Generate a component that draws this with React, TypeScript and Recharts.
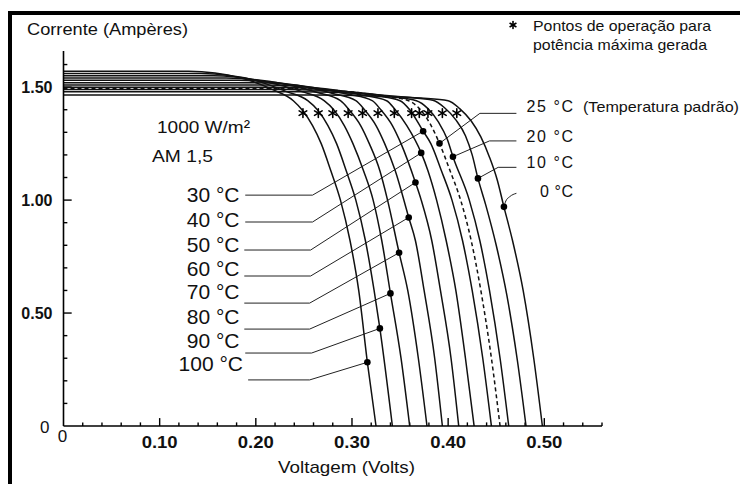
import React from 'react';
import { ComposedChart, Line, Scatter, XAxis, YAxis } from 'recharts';

const FONT = '"Liberation Sans", Arial, Helvetica, sans-serif';

// I-V curves per cell temperature (v = Volts, i = Amperes)
const c100 = [
  { v: 0, i: 1.57 }, { v: 0.13, i: 1.57 }, { v: 0.185, i: 1.54 }, { v: 0.217, i: 1.49 },
  { v: 0.239, i: 1.44 }, { v: 0.248, i: 1.4 }, { v: 0.259, i: 1.33 }, { v: 0.268, i: 1.25 },
  { v: 0.278, i: 1.13 }, { v: 0.288, i: 1.0 }, { v: 0.298, i: 0.82 }, { v: 0.307, i: 0.6 },
  { v: 0.316, i: 0.282 }, { v: 0.325, i: 0 },
];
const c90 = [
  { v: 0, i: 1.56 }, { v: 0.143, i: 1.56 }, { v: 0.199, i: 1.53 }, { v: 0.232, i: 1.48 },
  { v: 0.254, i: 1.44 }, { v: 0.264, i: 1.4 }, { v: 0.275, i: 1.33 }, { v: 0.284, i: 1.25 },
  { v: 0.294, i: 1.13 }, { v: 0.304, i: 1.0 }, { v: 0.314, i: 0.82 }, { v: 0.323, i: 0.6 },
  { v: 0.329, i: 0.432 }, { v: 0.342, i: 0 },
];
const c80 = [
  { v: 0, i: 1.55 }, { v: 0.156, i: 1.55 }, { v: 0.214, i: 1.52 }, { v: 0.248, i: 1.48 },
  { v: 0.271, i: 1.44 }, { v: 0.281, i: 1.4 }, { v: 0.292, i: 1.33 }, { v: 0.301, i: 1.25 },
  { v: 0.312, i: 1.13 }, { v: 0.322, i: 1.0 }, { v: 0.331, i: 0.82 }, { v: 0.34, i: 0.587 },
  { v: 0.351, i: 0.3 }, { v: 0.36, i: 0 },
];
const c70 = [
  { v: 0, i: 1.54 }, { v: 0.169, i: 1.54 }, { v: 0.229, i: 1.515 }, { v: 0.264, i: 1.476 },
  { v: 0.288, i: 1.44 }, { v: 0.297, i: 1.4 }, { v: 0.309, i: 1.33 }, { v: 0.318, i: 1.25 },
  { v: 0.329, i: 1.13 }, { v: 0.337, i: 1.0 }, { v: 0.349, i: 0.767 }, { v: 0.358, i: 0.6 },
  { v: 0.369, i: 0.3 }, { v: 0.378, i: 0 },
];
const c60 = [
  { v: 0, i: 1.53 }, { v: 0.182, i: 1.53 }, { v: 0.243, i: 1.508 }, { v: 0.28, i: 1.472 },
  { v: 0.304, i: 1.44 }, { v: 0.313, i: 1.4 }, { v: 0.325, i: 1.33 }, { v: 0.334, i: 1.25 },
  { v: 0.345, i: 1.13 }, { v: 0.359, i: 0.923 }, { v: 0.366, i: 0.82 }, { v: 0.375, i: 0.6 },
  { v: 0.386, i: 0.3 }, { v: 0.394, i: 0 },
];
const c50 = [
  { v: 0, i: 1.52 }, { v: 0.195, i: 1.52 }, { v: 0.258, i: 1.5 }, { v: 0.296, i: 1.469 },
  { v: 0.321, i: 1.44 }, { v: 0.33, i: 1.4 }, { v: 0.342, i: 1.33 }, { v: 0.351, i: 1.25 },
  { v: 0.366, i: 1.078 }, { v: 0.372, i: 1.0 }, { v: 0.383, i: 0.82 }, { v: 0.392, i: 0.6 },
  { v: 0.403, i: 0.3 }, { v: 0.411, i: 0 },
];
const c40 = [
  { v: 0, i: 1.51 }, { v: 0.208, i: 1.51 }, { v: 0.272, i: 1.493 }, { v: 0.31, i: 1.465 },
  { v: 0.336, i: 1.44 }, { v: 0.345, i: 1.4 }, { v: 0.357, i: 1.33 }, { v: 0.372, i: 1.209 },
  { v: 0.379, i: 1.13 }, { v: 0.388, i: 1.0 }, { v: 0.398, i: 0.82 }, { v: 0.408, i: 0.6 },
  { v: 0.418, i: 0.3 }, { v: 0.427, i: 0 },
];
const c30 = [
  { v: 0, i: 1.5 }, { v: 0.221, i: 1.5 }, { v: 0.286, i: 1.485 }, { v: 0.324, i: 1.462 },
  { v: 0.35, i: 1.44 }, { v: 0.36, i: 1.4 }, { v: 0.374, i: 1.305 }, { v: 0.382, i: 1.25 },
  { v: 0.393, i: 1.13 }, { v: 0.404, i: 1.0 }, { v: 0.415, i: 0.82 }, { v: 0.425, i: 0.6 },
  { v: 0.436, i: 0.3 }, { v: 0.445, i: 0 },
];
const c25 = [
  { v: 0, i: 1.495 }, { v: 0.228, i: 1.495 }, { v: 0.294, i: 1.481 }, { v: 0.333, i: 1.46 },
  { v: 0.359, i: 1.44 }, { v: 0.37, i: 1.405 }, { v: 0.381, i: 1.34 }, { v: 0.391, i: 1.251 },
  { v: 0.402, i: 1.13 }, { v: 0.413, i: 1.0 }, { v: 0.424, i: 0.82 }, { v: 0.434, i: 0.6 },
  { v: 0.445, i: 0.3 }, { v: 0.454, i: 0 },
];
const c20 = [
  { v: 0, i: 1.49 }, { v: 0.234, i: 1.49 }, { v: 0.3, i: 1.478 }, { v: 0.34, i: 1.458 },
  { v: 0.367, i: 1.44 }, { v: 0.379, i: 1.405 }, { v: 0.39, i: 1.345 }, { v: 0.399, i: 1.27 },
  { v: 0.405, i: 1.192 }, { v: 0.422, i: 1.0 }, { v: 0.433, i: 0.82 }, { v: 0.443, i: 0.6 },
  { v: 0.454, i: 0.3 }, { v: 0.463, i: 0 },
];
const c10 = [
  { v: 0, i: 1.48 }, { v: 0.247, i: 1.48 }, { v: 0.316, i: 1.47 }, { v: 0.357, i: 1.455 },
  { v: 0.384, i: 1.442 }, { v: 0.396, i: 1.41 }, { v: 0.408, i: 1.355 }, { v: 0.418, i: 1.285 },
  { v: 0.425, i: 1.2 }, { v: 0.431, i: 1.096 }, { v: 0.439, i: 0.98 }, { v: 0.45, i: 0.8 },
  { v: 0.461, i: 0.58 }, { v: 0.472, i: 0.29 }, { v: 0.481, i: 0 },
];
const c0 = [
  { v: 0, i: 1.465 }, { v: 0.26, i: 1.465 }, { v: 0.33, i: 1.46 }, { v: 0.372, i: 1.452 },
  { v: 0.4, i: 1.44 }, { v: 0.412, i: 1.405 }, { v: 0.424, i: 1.35 }, { v: 0.434, i: 1.28 },
  { v: 0.443, i: 1.19 }, { v: 0.451, i: 1.09 }, { v: 0.458, i: 0.97 }, { v: 0.467, i: 0.82 },
  { v: 0.478, i: 0.6 }, { v: 0.489, i: 0.3 }, { v: 0.498, i: 0 },
];

// maximum power points (asterisks)
const maxPowerPoints = [
  { v: 0.249, i: 1.385 }, { v: 0.265, i: 1.385 }, { v: 0.28, i: 1.385 }, { v: 0.296, i: 1.385 },
  { v: 0.311, i: 1.385 }, { v: 0.327, i: 1.385 }, { v: 0.344, i: 1.385 }, { v: 0.362, i: 1.385 },
  { v: 0.37, i: 1.385 }, { v: 0.379, i: 1.385 }, { v: 0.394, i: 1.385 }, { v: 0.409, i: 1.385 },
];

// points where the label leaders touch the curves
const labelDots = [
  { v: 0.374, i: 1.305 }, { v: 0.372, i: 1.209 }, { v: 0.366, i: 1.078 }, { v: 0.359, i: 0.923 },
  { v: 0.349, i: 0.767 }, { v: 0.34, i: 0.587 }, { v: 0.329, i: 0.432 }, { v: 0.316, i: 0.282 },
  { v: 0.391, i: 1.251 }, { v: 0.405, i: 1.192 }, { v: 0.431, i: 1.096 }, { v: 0.458, i: 0.97 },
];

// leader lines from the temperature labels to the curves
const leader30 = [{ v: 0.189, i: 1.022 }, { v: 0.259, i: 1.022 }, { v: 0.374, i: 1.305 }];
const leader40 = [{ v: 0.189, i: 0.903 }, { v: 0.259, i: 0.903 }, { v: 0.372, i: 1.209 }];
const leader50 = [{ v: 0.188, i: 0.779 }, { v: 0.257, i: 0.779 }, { v: 0.366, i: 1.078 }];
const leader60 = [{ v: 0.188, i: 0.664 }, { v: 0.257, i: 0.664 }, { v: 0.359, i: 0.923 }];
const leader70 = [{ v: 0.188, i: 0.544 }, { v: 0.256, i: 0.544 }, { v: 0.349, i: 0.767 }];
const leader80 = [{ v: 0.188, i: 0.429 }, { v: 0.256, i: 0.429 }, { v: 0.34, i: 0.587 }];
const leader90 = [{ v: 0.189, i: 0.323 }, { v: 0.258, i: 0.323 }, { v: 0.329, i: 0.432 }];
const leader100 = [{ v: 0.192, i: 0.204 }, { v: 0.256, i: 0.204 }, { v: 0.316, i: 0.282 }];
const leader25 = [{ v: 0.391, i: 1.251 }, { v: 0.433, i: 1.384 }, { v: 0.471, i: 1.384 }];
const leader20 = [{ v: 0.405, i: 1.192 }, { v: 0.443, i: 1.262 }, { v: 0.471, i: 1.262 }];
const leader10 = [{ v: 0.431, i: 1.096 }, { v: 0.452, i: 1.145 }, { v: 0.471, i: 1.145 }];
const leader0 = [{ v: 0.458, i: 0.97 }, { v: 0.46, i: 0.996 }, { v: 0.464, i: 1.015 }, { v: 0.471, i: 1.03 }];

// axes
const xTicks = [0, 0.02, 0.04, 0.06, 0.08, 0.1, 0.12, 0.14, 0.16, 0.18, 0.2, 0.22, 0.24, 0.26, 0.28,
  0.3, 0.32, 0.34, 0.36, 0.38, 0.4, 0.42, 0.44, 0.46, 0.48, 0.5, 0.52, 0.54, 0.56];
const xMajor = [0, 0.1, 0.2, 0.3, 0.4, 0.5];
const xMajorLabels = ['0', '0.10', '0.20', '0.30', '0.40', '0.50'];
const yTicks = [0, 0.1, 0.2, 0.3, 0.4, 0.5, 0.6, 0.7, 0.8, 0.9, 1.0, 1.1, 1.2, 1.3, 1.4, 1.5, 1.6];
const yMajor = [0, 0.5, 1.0, 1.5];
const yMajorLabels = ['0', '0.50', '1.00', '1.50'];

const leftLabels = ['30 °C', '40 °C', '50 °C', '60 °C', '70 °C', '80 °C', '90 °C', '100 °C'];
const rightLabels = ['25 °C', '20 °C', '10 °C', '0 °C'];

const curves = [c100, c90, c80, c70, c60, c50, c40, c30, c25, c20, c10, c0];
const leaders = [leader30, leader40, leader50, leader60, leader70, leader80, leader90, leader100,
  leader25, leader20, leader10];

const findMajor = (list: number[], v: number) => list.findIndex((m) => Math.abs(m - v) < 1e-6);

// inward tick marks, drawn as tiny line series standing on the axes
const xTickMarks = xTicks.filter((v) => v > 0).map((v) => {
  const len = findMajor(xMajor, v) >= 0 ? 0.035 : 0.016;
  return [{ v, i: 0 }, { v, i: len }];
});
const yTickMarks = yTicks.filter((i) => i > 0).map((i) => {
  const len = findMajor(yMajor, i) >= 0 ? 0.0085 : 0.004;
  return [{ v: 0, i }, { v: len, i }];
});

const Asterisk = ({ cx, cy, r = 4.4 }: { cx: number; cy: number; r?: number }) => (
  <g stroke="#000" strokeWidth={1.6} strokeLinecap="round">
    <line x1={cx} y1={cy - r} x2={cx} y2={cy + r} />
    <line x1={cx - r * 0.866} y1={cy - r * 0.5} x2={cx + r * 0.866} y2={cy + r * 0.5} />
    <line x1={cx - r * 0.866} y1={cy + r * 0.5} x2={cx + r * 0.866} y2={cy - r * 0.5} />
  </g>
);

const XTick = (props: any) => {
  const { x, y, payload } = props;
  const k = findMajor(xMajor, payload.value);
  if (k < 0) return <g />;
  if (k === 0) {
    return (
      <text x={x - 1} y={y + 16} textAnchor="middle" fontSize={17} fontFamily={FONT} fill="#111">
        {xMajorLabels[k]}
      </text>
    );
  }
  return (
    <text x={x} y={y + 22} textAnchor="middle" fontSize={16} fontWeight="bold" fontFamily={FONT}
      fill="#111" textLength={36} lengthAdjust="spacingAndGlyphs">
      {xMajorLabels[k]}
    </text>
  );
};

const YTick = (props: any) => {
  const { x, y, payload } = props;
  const k = findMajor(yMajor, payload.value);
  if (k < 0) return <g />;
  if (k === 0) {
    return (
      <text x={x - 14} y={y + 7} textAnchor="end" fontSize={17} fontFamily={FONT} fill="#111">
        {yMajorLabels[k]}
      </text>
    );
  }
  return (
    <text x={x - 11} y={y + 6} textAnchor="end" fontSize={16} fontWeight="bold" fontFamily={FONT}
      fill="#111">
      {yMajorLabels[k]}
    </text>
  );
};

const leftBaselines = [202, 227, 252, 276, 299, 324, 348, 371];
const rightBaselines = [112, 142, 168, 197];

export default function App() {
  return (
    <div style={{ position: 'absolute', left: 0, top: 0, width: 740, height: 484, background: '#fff' }}>
      <ComposedChart width={740} height={484} margin={{ top: 51, right: 138, bottom: 28, left: 13.5 }}>
        <XAxis dataKey="v" type="number" domain={[0, 0.56]} ticks={xTicks} interval={0} height={30}
          tickSize={0} tickMargin={0} tickLine={false} tick={<XTick />}
          axisLine={{ stroke: '#000', strokeWidth: 1.6 }} />
        <YAxis dataKey="i" type="number" domain={[0, 1.66]} ticks={yTicks} interval={0} width={50}
          tickSize={0} tickMargin={0} tickLine={false} tick={<YTick />}
          axisLine={{ stroke: '#000', strokeWidth: 1.6 }} />
        {xTickMarks.map((d, n) => (
          <Line key={'xt' + n} data={d} dataKey="i" type="linear" stroke="#000" strokeWidth={1.4}
            dot={false} isAnimationActive={false} />
        ))}
        {yTickMarks.map((d, n) => (
          <Line key={'yt' + n} data={d} dataKey="i" type="linear" stroke="#000" strokeWidth={1.4}
            dot={false} isAnimationActive={false} />
        ))}
        {leaders.map((d, n) => (
          <Line key={'l' + n} data={d} dataKey="i" type="linear" stroke="#222" strokeWidth={1}
            dot={false} isAnimationActive={false} />
        ))}
        <Line data={leader0} dataKey="i" type="monotone" stroke="#222" strokeWidth={1}
          dot={false} isAnimationActive={false} />
        {curves.map((d, n) => (
          <Line key={'c' + n} data={d} dataKey="i" type="monotone" stroke="#111" strokeWidth={1.5}
            strokeDasharray={d === c25 ? '4 3' : undefined} dot={false} isAnimationActive={false} />
        ))}
        <Scatter data={labelDots} dataKey="i" fill="#000" isAnimationActive={false}
          shape={(p: any) => <circle cx={p.cx} cy={p.cy} r={3.3} fill="#000" />} />
        <Scatter data={maxPowerPoints} dataKey="i" isAnimationActive={false}
          shape={(p: any) => <Asterisk cx={p.cx} cy={p.cy} />} />
      </ComposedChart>

      <svg width={740} height={484} style={{ position: 'absolute', left: 0, top: 0, pointerEvents: 'none' }}
        fontFamily={FONT} fill="#111">
        <rect x={8} y={11} width={732} height={4} fill="#000" />
        <rect x={8} y={11} width={4} height={473} fill="#000" />
        <text x={27} y={35} fontSize={17} textLength={161} lengthAdjust="spacingAndGlyphs">Corrente (Ampères)</text>
        <text x={278} y={473} fontSize={17} textLength={137} lengthAdjust="spacingAndGlyphs">Voltagem (Volts)</text>
        <Asterisk cx={513} cy={25} r={3.4} />
        <text x={533} y={31} fontSize={15} textLength={178} lengthAdjust="spacingAndGlyphs">Pontos de operação para</text>
        <text x={533} y={50} fontSize={15} textLength={174} lengthAdjust="spacingAndGlyphs">potência máxima gerada</text>
        <text x={157} y={133} fontSize={17} textLength={93} lengthAdjust="spacingAndGlyphs">1000 W/m²</text>
        <text x={152} y={162} fontSize={17} textLength={61} lengthAdjust="spacingAndGlyphs">AM 1,5</text>
        {leftLabels.map((t, n) => (
          <text key={t} x={n === 7 ? 243 : 239.5} y={leftBaselines[n]} fontSize={21} textAnchor="end">{t}</text>
        ))}
        {rightLabels.map((t, n) => (
          <text key={t} x={573} y={rightBaselines[n]} fontSize={16} textAnchor="end"
            textLength={n === 3 ? 33 : 46.5} lengthAdjust="spacing">{t}</text>
        ))}
        <text x={583} y={112} fontSize={15} textLength={156} lengthAdjust="spacingAndGlyphs">(Temperatura padrão)</text>
      </svg>
    </div>
  );
}
